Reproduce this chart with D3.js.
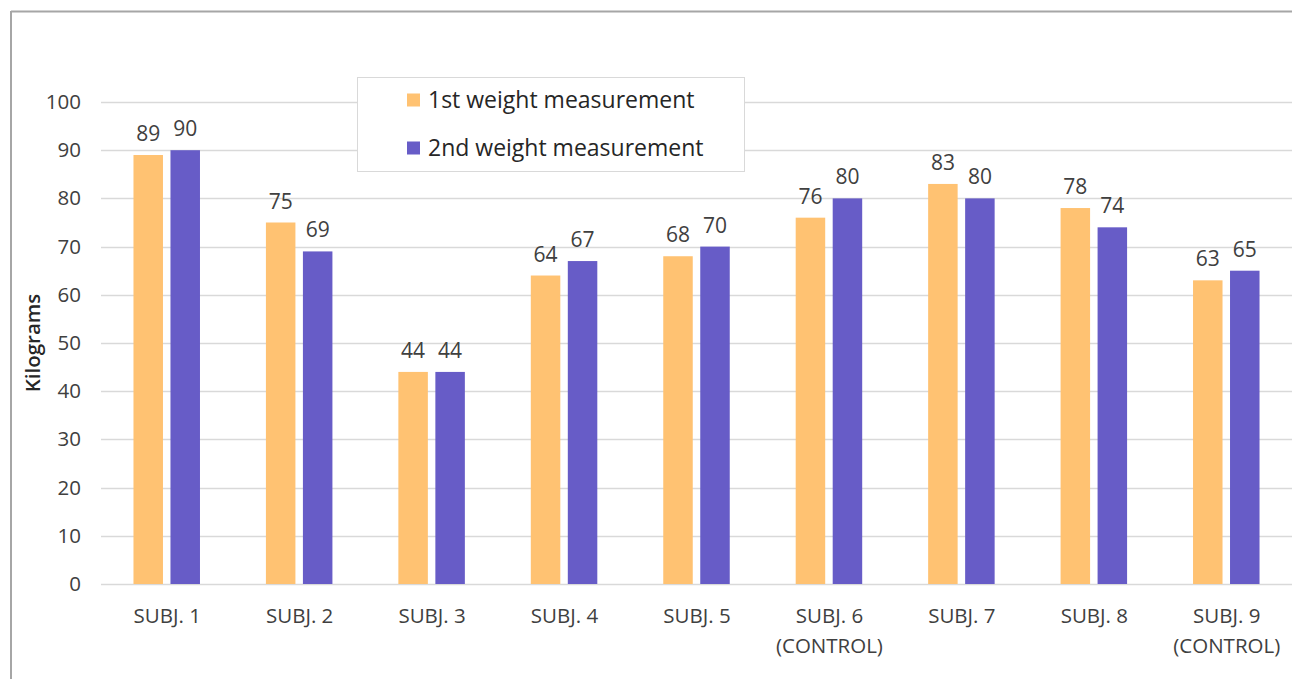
<!DOCTYPE html>
<html>
<head>
<meta charset="utf-8">
<script src="https://cdn.jsdelivr.net/npm/d3@7"></script>
<style>
	html, body { margin: 0; padding: 0; background: #fff; overflow: hidden; }
	svg { display: block; }
	svg text { font-family: "Open Sans", "Noto Sans", sans-serif; fill: #404040; }
</style>
</head>
<body>
<svg id="chart" width="1292" height="679"></svg>
<script>
var categories = ["SUBJ. 1", "SUBJ. 2", "SUBJ. 3", "SUBJ. 4", "SUBJ. 5", "SUBJ. 6\n(CONTROL)", "SUBJ. 7", "SUBJ. 8", "SUBJ. 9\n(CONTROL)"];
var firstWeight = [89, 75, 44, 64, 68, 76, 83, 78, 63];
var secondWeight = [90, 69, 44, 67, 70, 80, 80, 74, 65];
var seriesNames = ["1st weight measurement", "2nd weight measurement"];
var seriesColors = ["#FFC272", "#675CC7"];
var yTicks = [0, 10, 20, 30, 40, 50, 60, 70, 80, 90, 100];

var svg = d3.select("#chart");
var margin = { left: 101, right: -1, top: 102, bottom: 95 };
var width = 1292 - margin.left - margin.right;
var height = 679 - margin.top - margin.bottom;

// outer chart border (only top & left show in the frame)
svg.append("line")
	.attr("x1", 11).attr("y1", 11.5)
	.attr("x2", 1292).attr("y2", 11.5)
	.attr("stroke", "#a6a6a6")
	.attr("stroke-width", 2);
svg.append("line")
	.attr("x1", 11).attr("y1", 11)
	.attr("x2", 11).attr("y2", 679)
	.attr("stroke", "#a6a6a6")
	.attr("stroke-width", 2);

var g = svg.append("g")
	.attr("transform", "translate(" + margin.left + "," + margin.top + ")");

var x = d3.scaleBand()
	.domain(categories)
	.range([0, width]);

var y = d3.scaleLinear()
	.domain([0, 100])
	.range([height, 0]);

// gridlines
g.append("g")
	.selectAll("line")
	.data(yTicks)
	.enter()
	.append("line")
	.attr("x1", 0)
	.attr("x2", width)
	.attr("y1", d => Math.round(y(d)) + 0.5)
	.attr("y2", d => Math.round(y(d)) + 0.5)
	.attr("stroke", "#d9d9d9")
	.attr("stroke-width", 1.3);

// y axis labels
var yAxis = g.append("g")
	.call(d3.axisLeft(y).tickValues(yTicks).tickSize(0).tickPadding(20));
yAxis.select(".domain").remove();
yAxis.selectAll("text")
	.style("font-size", "20.5px")
	.attr("fill", "#404040");

// y axis title
svg.append("text")
	.attr("transform", "translate(40," + (margin.top + height / 2) + ") rotate(-90)")
	.attr("text-anchor", "middle")
	.style("font-size", "20.5px")
	.style("font-weight", "600")
	.style("fill", "#262626")
	.text("Kilograms");

// x axis labels, two lines for the control subjects
var xLabels = g.append("g")
	.selectAll("text")
	.data(categories)
	.enter()
	.append("text")
	.attr("text-anchor", "middle")
	.attr("x", d => x(d) + x.bandwidth() / 2)
	.attr("y", height + 39)
	.style("font-size", "20.5px");

xLabels.each(function(d) {
	var lines = d.split("\n");
	var t = d3.select(this);
	lines.forEach(function(line, i) {
		t.append("tspan")
			.attr("x", x(d) + x.bandwidth() / 2)
			.attr("dy", i === 0 ? 0 : 30)
			.text(line);
	});
});

// bars + value labels
var barW = 29.5;
var gap = 7.5;
var series = [firstWeight, secondWeight];

series.forEach(function(values, s) {
	var offset = s === 0 ? -(gap / 2 + barW) : gap / 2;
	var grp = g.append("g").attr("class", "series-" + s);

	grp.selectAll("rect")
		.data(values)
		.enter()
		.append("rect")
		.attr("x", (d, i) => x(categories[i]) + x.bandwidth() / 2 + offset - 0.5)
		.attr("y", d => y(d))
		.attr("width", barW)
		.attr("height", d => height - y(d))
		.attr("fill", seriesColors[s]);

	grp.selectAll("text")
		.data(values)
		.enter()
		.append("text")
		.attr("text-anchor", "middle")
		.attr("x", (d, i) => x(categories[i]) + x.bandwidth() / 2 + offset + barW / 2 - 0.5)
		.attr("y", d => y(d) - 14)
		.style("font-size", "21px")
		.text(d => d);
});

// legend
var legend = svg.append("g");
legend.append("rect")
	.attr("x", 357.5)
	.attr("y", 77.5)
	.attr("width", 387)
	.attr("height", 94)
	.attr("fill", "#fff")
	.attr("stroke", "#d9d9d9")
	.attr("stroke-width", 1);

seriesNames.forEach(function(name, i) {
	var cy = 100 + i * 48;
	legend.append("rect")
		.attr("x", 407)
		.attr("y", cy - 6.5)
		.attr("width", 13)
		.attr("height", 13)
		.attr("fill", seriesColors[i]);
	legend.append("text")
		.attr("x", 428)
		.attr("y", cy + 8)
		.style("font-size", "23px")
		.style("fill", "#262626")
		.text(name);
});
</script>
</body>
</html>
